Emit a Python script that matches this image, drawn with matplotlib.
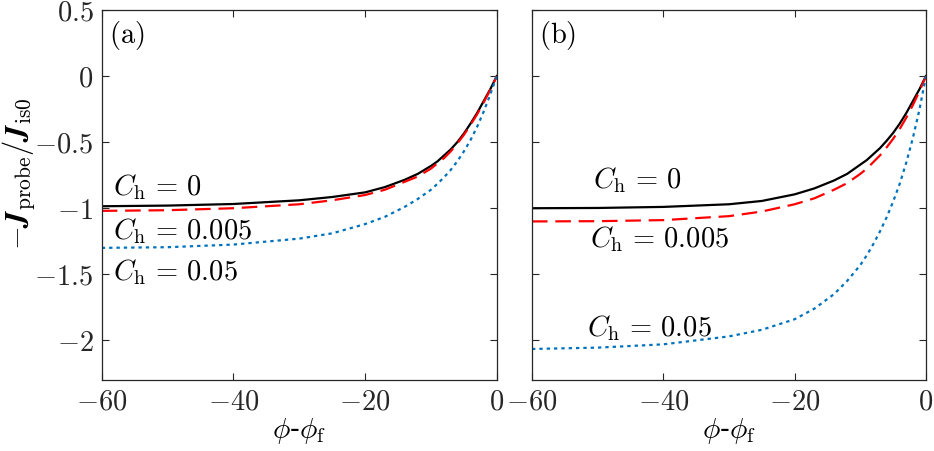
import matplotlib.pyplot as plt
import numpy as np

plt.rcParams['mathtext.fontset'] = 'cm'
plt.rcParams['font.family'] = 'serif'
plt.rcParams['font.serif'] = ['DejaVu Serif']

# values, phi - phi_f
phi = [-60, -50, -40, -30, -25, -20, -17, -14, -12, -10, -9, -8, -7, -6, -5, -4, -3, -2, -1, 0]

# panel (a)
a_ch0 = [-0.985, -0.98, -0.968, -0.94, -0.915, -0.88, -0.84, -0.785, -0.74, -0.68, -0.645, -0.60, -0.555,
         -0.50, -0.435, -0.36, -0.28, -0.19, -0.10, 0.0]
a_ch005 = [-1.02, -1.015, -1.0, -0.97, -0.94, -0.90, -0.86, -0.80, -0.76, -0.70, -0.66, -0.62, -0.57,
           -0.51, -0.445, -0.37, -0.29, -0.20, -0.105, 0.0]
a_ch05 = [-1.30, -1.295, -1.275, -1.23, -1.19, -1.12, -1.065, -0.99, -0.93, -0.86, -0.815, -0.765, -0.71,
          -0.645, -0.57, -0.485, -0.385, -0.27, -0.14, 0.0]

# panel (b)
b_ch0 = [-1.0, -0.998, -0.99, -0.97, -0.945, -0.895, -0.85, -0.79, -0.74, -0.67, -0.635, -0.59, -0.545,
         -0.49, -0.43, -0.36, -0.28, -0.19, -0.10, 0.0]
b_ch005 = [-1.10, -1.098, -1.09, -1.06, -1.025, -0.97, -0.925, -0.86, -0.81, -0.74, -0.70, -0.65, -0.60,
           -0.54, -0.475, -0.40, -0.315, -0.22, -0.115, 0.0]
b_ch05 = [-2.065, -2.055, -2.03, -1.97, -1.92, -1.84, -1.76, -1.65, -1.55, -1.43, -1.355, -1.27, -1.175,
          -1.07, -0.95, -0.815, -0.655, -0.47, -0.255, 0.0]

labels = [r'$C_\mathrm{h}\,=\,0$', r'$C_\mathrm{h}\,=\,0.005$', r'$C_\mathrm{h}\,=\,0.05$']
a_label_pos = [(-58.3, -0.84), (-58.3, -1.17), (-58.3, -1.48)]
b_label_pos = [(-50.7, -0.79), (-51.1, -1.23), (-51.7, -1.91)]

fs = 20.5
fig = plt.figure(figsize=(9.34, 4.51), dpi=100)
ax1 = fig.add_axes([0.109, 0.1574, 0.4229, 0.8204])
ax2 = fig.add_axes([0.5696, 0.1574, 0.4218, 0.8204])

for ax, ys, pos, tag in [(ax1, (a_ch0, a_ch005, a_ch05), a_label_pos, r'$\mathrm{(a)}$'),
                         (ax2, (b_ch0, b_ch005, b_ch05), b_label_pos, r'$\mathrm{(b)}$')]:
    ax.plot(phi, ys[0], color='black', lw=1.6)
    ax.plot(phi, ys[1], color='#ff0000', lw=1.6, dashes=(7, 3.5))
    ax.plot(phi, ys[2], color='#0072bd', lw=1.6, dashes=(1.5, 1.8))
    for lab, (x, y) in zip(labels, pos):
        ax.text(x, y, lab, fontsize=fs, va='center', ha='left')
    ax.text(0.017, 0.975, tag, transform=ax.transAxes, fontsize=fs,
            va='top', ha='left')
    ax.set_xlim(-60, 0)
    ax.set_ylim(-2.3, 0.5)
    ax.set_xticks([-60, -40, -20, 0])
    ax.set_xticklabels([r'$-60$', r'$-40$', r'$-20$', r'$0$'])
    ax.set_yticks([-2, -1.5, -1, -0.5, 0, 0.5])
    ax.tick_params(direction='in', top=True, right=True, length=5,
                   width=0.8, labelsize=fs, colors='#262626', pad=6)
    for s in ax.spines.values():
        s.set_color('#262626')
        s.set_linewidth(0.9)
    ax.set_xlabel(r'$\phi$-$\phi_\mathrm{f}$', fontsize=21)
    ax.xaxis.set_label_coords(0.5, -0.098)

ax1.set_yticklabels([r'$-2$', r'$-1.5$', r'$-1$', r'$-0.5$', r'$0$', r'$0.5$'])
ax2.set_yticklabels([])
ax1.set_ylabel(r'$-\boldsymbol{J}_\mathrm{probe}/\boldsymbol{J}_\mathrm{is0}$',
               fontsize=22)
ax1.yaxis.set_label_coords(-0.165, 0.557)

fig.savefig('out.png', dpi=100)
